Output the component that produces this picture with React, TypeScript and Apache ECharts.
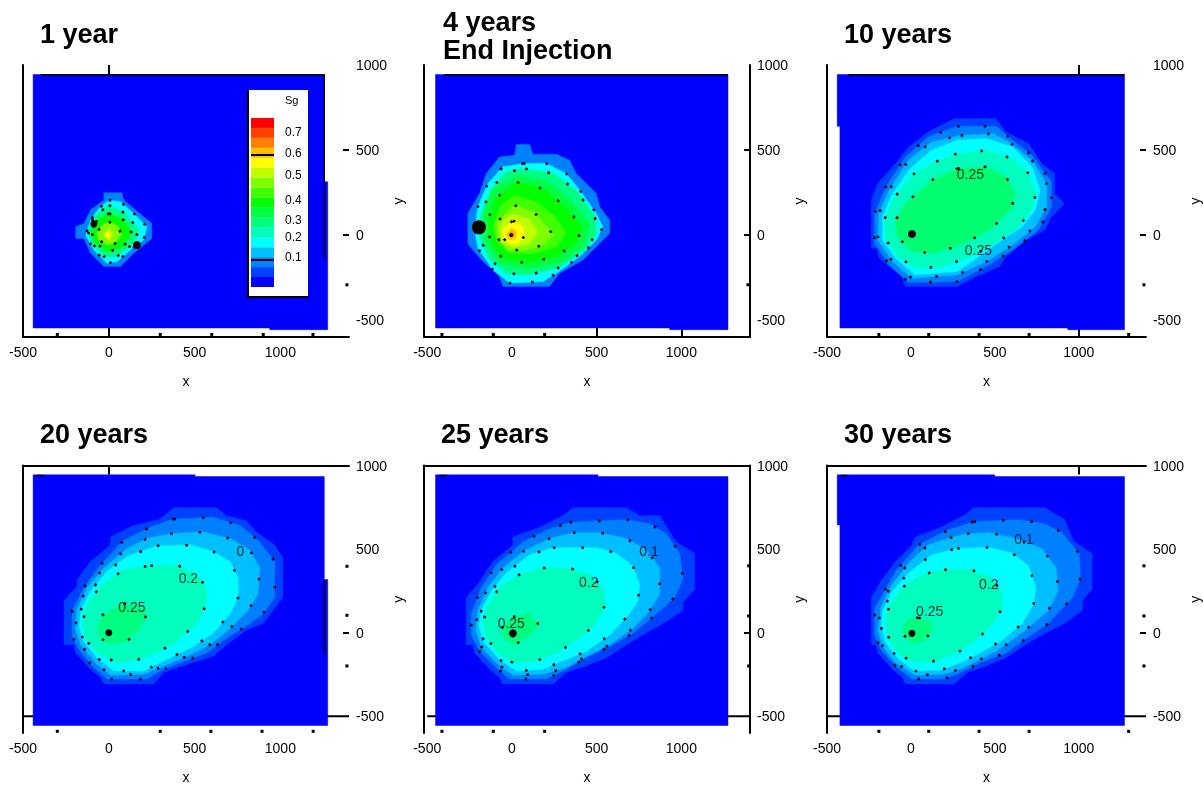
import React, { useEffect, useRef } from "react";
import * as echarts from "echarts";

type Pt = number[];

const legendColors = ["#0000ff","#0040ff","#0080ff","#00bfff","#00ffff","#00ffbf","#00ff80","#00ff40","#00ff00","#40ff00","#80ff00","#bfff00","#ffff00","#ffbf00","#ff8000","#ff4000","#ff0000"];
const legendLabels = ["0.7","0.6","0.5","0.4","0.3","0.2","0.1"];
const legendTitle = "Sg";
const titles = ["1 year","4 years\nEnd Injection","10 years","20 years","25 years","30 years"];
const xTickLabels = [-500,0,500,1000];
const yTickLabels = [-500,0,500,1000];

const bgSheet: Pt[][] = [
  [[-441,944],[1256,944],[1256,313],[1276,313],[1276,-557],[938,-557],[938,-547],[-441,-547]],
  [[-451,944],[1275,944],[1275,-557],[931,-557],[931,-547],[-451,-547]],
  [[-439,944],[1272,944],[1272,-557],[934,-557],[934,-547],[-423,-547],[-423,639],[-439,639]],
  [[-441,944],[503,944],[503,934],[1256,934],[1256,318],[1276,318],[1276,-555],[-441,-555]],
  [[-451,944],[508,944],[508,934],[1275,934],[1275,-555],[-451,-555]],
  [[-439,944],[499,944],[499,934],[1272,934],[1272,-555],[-423,-555],[-423,644],[-439,644]],
];

const colors1 = ["#0080ff","#00ffff","#00ff80","#00ff00","#80ff00","#bfff00","#ffff00"];
const bands1: Pt[][] = [
  [[-29,248],[77,248],[87,205],[145,156],[251,68],[251,-20],[145,-107],[68,-186],[-29,-186],[-106,-107],[-145,-20],[-193,-20],[-193,49],[-145,68],[-106,147],[-29,205]],
  [[0,205],[68,195],[145,127],[222,49],[203,-29],[126,-88],[48,-156],[-10,-166],[-87,-88],[-135,0],[-106,88],[-58,156]],
  [[0,176],[97,127],[174,29],[145,-49],[48,-127],[-29,-127],[-106,-39],[-122,29],[-87,107]],
  [[0,127],[87,88],[135,10],[87,-68],[0,-98],[-77,-49],[-102,20],[-68,88]],
  [[0,78],[58,49],[72,0],[39,-49],[-10,-59],[-58,-29],[-68,10],[-48,49]],
  [[0,39],[29,0],[0,-33],[-29,0]],
  [[-6,20],[14,0],[-6,-20],[-25,0]],
];

const colors2 = ["#0080ff","#00ffff","#00ff80","#00ff40","#00ff00","#40ff00","#80ff00","#bfff00","#ffff00","#ffbf00","#ff8000"];
const bands2: Pt[][] = [
  [[26,533],[104,533],[124,475],[262,475],[340,440],[380,361],[498,244],[518,166],[577,88],[577,10],[518,-49],[419,-147],[281,-225],[222,-303],[-53,-303],[-73,-244],[-171,-156],[-240,-78],[-260,-49],[-260,127],[-191,244],[-152,361],[-73,459],[16,469]],
  [[65,420],[203,420],[321,361],[400,264],[498,127],[537,49],[498,-29],[400,-127],[262,-225],[183,-274],[-14,-283],[-112,-205],[-201,-78],[-220,29],[-201,166],[-142,303],[-53,401]],
  [[79,390],[250,360],[385,256],[490,110],[500,10],[430,-92],[270,-195],[90,-235],[-35,-225],[-140,-133],[-190,-10],[-180,133],[-118,277],[-35,370]],
  [[35,345],[215,310],[345,205],[460,60],[425,-60],[285,-165],[90,-200],[-70,-170],[-155,-40],[-170,115],[-120,265]],
  [[30,310],[190,270],[310,170],[415,50],[380,-50],[250,-130],[75,-165],[-60,-135],[-130,-30],[-140,90],[-98,215]],
  [[16,235],[140,195],[255,110],[320,10],[260,-70],[120,-110],[-14,-105],[-90,-40],[-110,50],[-66,175]],
  [[16,175],[130,135],[215,40],[242,0],[180,-60],[70,-90],[-24,-88],[-80,-24],[-90,75]],
  [[6,125],[100,95],[154,15],[100,-55],[6,-75],[-60,-42],[-75,32],[-48,90]],
  [[6,85],[60,55],[80,0],[40,-45],[-4,-55],[-48,-24],[-55,32]],
  [[-4,39],[26,20],[22,-20],[-14,-29],[-33,0]],
  [[-4,20],[12,0],[-4,-14],[-18,0]],
];

const colors3 = ["#0040ff","#0080ff","#00bfff","#00ffff","#00ffbf","#00ff70"];
const bands3: Pt[][] = [
  [[257,684],[508,684],[566,606],[702,537],[779,420],[856,361],[856,244],[914,186],[837,107],[798,29],[702,-20],[566,-127],[528,-186],[392,-244],[276,-303],[-33,-303],[-52,-244],[-130,-186],[-197,-127],[-197,-78],[-236,-78],[-236,205],[-197,303],[-91,420],[-14,518],[102,606]],
  [[276,639],[508,639],[605,557],[721,469],[837,313],[837,166],[760,29],[605,-88],[450,-186],[276,-274],[-14,-279],[-130,-176],[-216,-49],[-216,127],[-149,283],[-33,459],[102,576]],
  [[296,586],[489,596],[586,547],[721,440],[808,303],[808,166],[740,49],[605,-59],[450,-156],[276,-234],[6,-254],[-110,-156],[-197,-29],[-191,127],[-130,264],[-14,440],[122,547]],
  [[276,557],[450,567],[605,518],[721,401],[769,264],[740,147],[663,49],[528,-39],[392,-137],[276,-215],[25,-234],[-91,-137],[-168,-29],[-168,107],[-120,225],[-14,381],[122,498]],
  [[257,475],[450,498],[605,449],[702,361],[744,244],[721,147],[624,29],[489,-59],[334,-137],[180,-186],[44,-195],[-72,-137],[-149,-29],[-159,88],[-110,205],[6,352],[122,420]],
  [[276,391],[450,401],[566,342],[624,244],[595,147],[470,29],[296,-59],[141,-107],[6,-98],[-81,-10],[-91,88],[-33,186],[122,322]],
];

const colors456 = ["#0040ff","#0080ff","#00bfff","#00ffff","#00ffbf","#00ff80"];
const bands4: Pt[][] = [
  [[377,748],[628,748],[686,700],[802,670],[860,602],[967,524],[1015,446],[1015,211],[957,133],[899,55],[802,16],[686,-72],[609,-141],[454,-190],[319,-238],[261,-307],[-29,-307],[-48,-268],[-106,-219],[-193,-121],[-203,-72],[-261,-72],[-261,191],[-184,279],[-184,319],[-106,426],[10,524],[10,573],[145,641],[300,680]],
  [[377,680],[609,690],[764,641],[870,553],[967,426],[967,211],[899,113],[793,35],[686,-33],[570,-121],[416,-180],[300,-229],[222,-277],[-10,-277],[-97,-199],[-174,-102],[-213,-23],[-213,133],[-145,270],[-48,406],[87,553],[242,631]],
  [[358,592],[551,602],[706,563],[822,494],[880,387],[870,231],[812,133],[706,25],[590,-72],[454,-141],[319,-199],[203,-248],[10,-254],[-77,-180],[-164,-72],[-193,16],[-188,133],[-126,270],[-29,387],[106,504],[222,563]],
  [[280,520],[474,524],[609,485],[706,426],[754,328],[754,211],[706,113],[609,-4],[493,-82],[338,-160],[203,-229],[29,-229],[-68,-150],[-145,-53],[-174,35],[-164,133],[-106,250],[-10,367],[106,455]],
  [[242,401],[396,406],[512,348],[570,270],[570,172],[512,55],[396,-53],[280,-121],[145,-170],[48,-180],[-68,-121],[-135,-43],[-155,55],[-126,172],[-48,279],[87,377]],
  [[87,176],[184,152],[222,113],[184,25],[106,-53],[10,-72],[-48,-33],[-68,25],[-39,104]],
];

const bands5: Pt[][] = [
  [[360,748],[675,748],[754,700],[872,700],[970,543],[1078,475],[1078,260],[1010,182],[1010,133],[892,55],[773,-14],[675,-72],[557,-150],[439,-199],[321,-238],[242,-307],[-53,-307],[-73,-268],[-132,-219],[-220,-121],[-230,-72],[-270,-72],[-270,211],[-201,289],[-112,426],[6,524],[6,573],[163,631],[301,700]],
  [[340,660],[675,676],[813,651],[911,592],[990,475],[1010,319],[960,211],[832,94],[714,-4],[577,-82],[439,-150],[301,-229],[203,-277],[-14,-277],[-92,-209],[-191,-111],[-240,-14],[-240,113],[-181,270],[-92,406],[65,543],[203,612]],
  [[360,598],[518,598],[675,563],[793,494],[872,387],[872,231],[813,133],[714,25],[577,-72],[439,-141],[321,-209],[183,-248],[6,-254],[-92,-180],[-181,-82],[-215,16],[-201,133],[-142,270],[-53,387],[65,485],[222,563]],
  [[242,508],[498,508],[616,475],[714,397],[754,289],[744,191],[695,113],[577,-14],[439,-111],[321,-160],[183,-219],[26,-229],[-73,-160],[-161,-63],[-195,35],[-181,133],[-122,250],[-33,358],[104,465]],
  [[183,387],[340,387],[459,348],[537,270],[553,172],[498,55],[400,-33],[281,-111],[144,-170],[6,-180],[-73,-131],[-142,-43],[-171,55],[-142,172],[-73,270],[45,348]],
  [[6,94],[104,113],[154,55],[114,-14],[16,-72],[-43,-43],[-63,25]],
];

const bands6: Pt[][] = [
  [[373,748],[798,748],[876,700],[914,680],[972,543],[1079,475],[1079,260],[1021,191],[1021,133],[914,55],[779,-14],[682,-72],[566,-150],[450,-199],[334,-238],[257,-307],[-33,-307],[-52,-268],[-110,-219],[-197,-121],[-207,-72],[-236,-72],[-236,211],[-178,309],[-91,426],[6,524],[25,573],[180,631],[315,700]],
  [[373,664],[644,676],[798,651],[895,602],[1001,475],[1011,328],[963,211],[818,55],[702,-23],[566,-121],[412,-180],[276,-248],[199,-277],[6,-277],[-91,-199],[-178,-102],[-216,-14],[-216,143],[-168,231],[-91,367],[44,524],[218,612]],
  [[334,592],[470,598],[624,563],[779,504],[866,387],[876,250],[818,133],[682,16],[566,-72],[450,-141],[315,-209],[199,-248],[25,-254],[-91,-180],[-168,-82],[-197,16],[-178,152],[-120,279],[-14,416],[102,524],[218,563]],
  [[276,504],[470,510],[605,475],[702,397],[744,270],[731,172],[663,55],[547,-43],[412,-121],[296,-180],[180,-223],[25,-229],[-72,-160],[-149,-63],[-178,35],[-168,133],[-110,250],[-14,358],[122,465]],
  [[199,377],[354,377],[470,338],[537,250],[547,152],[489,55],[392,-43],[276,-121],[141,-170],[25,-180],[-72,-131],[-130,-43],[-149,55],[-130,162],[-52,270],[64,348]],
  [[44,90],[122,64],[131,16],[73,-53],[6,-63],[-43,-14],[-43,45],[-14,84]],
];

const wells: Pt[][] = [
  [[-87,64,7],[164,-59,8]],
  [[-195,45,14],[-4,0,4]],
  [[6,6,8]],
  [[0,0,7]],
  [[6,-4,8]],
  [[6,-4,7]],
];

const contourLabels: (string|number)[][][] = [
  [],
  [],
  [["0.25",354,361],["0.25",402,-88]],
  [["0.2",464,328],["0.25",135,152],["0",767,488]],
  [["0.1",809,486],["0.2",453,303],["0.25",-4,59]],
  [["0.1",673,561],["0.2",464,293],["0.25",112,129]],
];

const dottedBands = [[1,2,3,4],[1,2,4,6,8],[1,2,4,5],[1,2,3,4,5],[1,2,3,4,5],[1,2,3,4,5]];
const dotGap = [12,20,24,26,26,26];

const frameSegments: Pt[][][] = [
  [[[-396,943],[1256,943],[1256,-137]]],
  [[[-398,943],[1275,943]]],
  [[[-371,943],[1272,943]]],
  [[[-420,940],[-380,940]],[[1256,318],[1256,-131]]],
  [[[-430,940],[-385,940]]],
  [[[-415,940],[-380,940]]],
];
const minusFiveHundredLine = [[[-500,-500],[1400,-500]]];

const xMinorTicks = [
  [-300,300,600,900,1190],
  [-413,-110,193],
  [-191,106,406,704,1297],
  [-300,300,595,893,1191],
  [-413,-110,193],
  [-191,106,406,704,1297],
];
const yMinorTicks = [[-293],[-293],[-293],[397,104,-199],[400,100,-199],[400,100,-199]];

const xBottomTicks = [[0],[500,1000],[1000],[],[],[]];
const xTopTicks = [[0],[],[1000],[0],[],[1000]];
const yRightTicks = [[500,0],[500,0],[500,0],[0],[0],[0]];
const showTopLine = [false,false,false,true,true,true];
const showBottomLine = [true,true,true,false,false,false];
const showRightLine = [false,true,false,false,true,false];

const gridLeft = [23,424,827,23,424,827];
const gridTop = [65,65,65,465.5,465.5,465.5];
const xMin = [-500,-519,-500,-500,-519,-500];
const xMax = [1400,1405,1400,1400,1405,1400];
const titleX = [40,443,844,40,441,844];
const titleY = [20,8,20,420,420,420];

const allBands = [bands1,bands2,bands3,bands4,bands5,bands6];
const allColors = [colors1,colors2,colors3,colors456,colors456,colors456];
const FONT = "Liberation Sans";
const tickFont = { color:"#000", fontSize:14, fontFamily:FONT };
const plainNumber = (v:number)=>String(v);

function polygons(bands: Pt[][], cols: string[], idx: number, z: number) {
  return {
    type:"custom", xAxisIndex:2*idx, yAxisIndex:2*idx+1, z, silent:true, clip:false,
    data: bands.map((_,i)=>[i]),
    encode:{x:0},
    renderItem:(p:any, api:any)=>({
      type:"polygon",
      shape:{ points: bands[p.dataIndex].map(q=>api.coord(q)) },
      style:{ fill: cols[p.dataIndex], stroke: cols[p.dataIndex], lineWidth:0.5 },
    }),
  };
}

function buildOption() {
  const grid:any[]=[], xAxis:any[]=[], yAxis:any[]=[], series:any[]=[];
  titles.forEach((_,i)=>{
    grid.push({ left:gridLeft[i], top:gridTop[i], width:326, height:272 });
    const tick=(vals:number[], len:number)=> vals.length
      ? { show:true, inside:true, length:len, customValues:vals, lineStyle:{color:"#000",width:2} }
      : { show:false };
    const line=(show:boolean)=>({ show, onZero:false, lineStyle:{color:"#000",width:2} });
    xAxis.push({ gridIndex:i, type:"value", position:"bottom", min:xMin[i], max:xMax[i],
      axisLine:line(showBottomLine[i]), axisTick:tick(xBottomTicks[i],9), splitLine:{show:false},
      axisLabel:{ ...tickFont, margin:8, customValues:xTickLabels, formatter:plainNumber },
      name:"x", nameLocation:"middle", nameGap:37, nameTextStyle:{...tickFont} });
    xAxis.push({ gridIndex:i, type:"value", position:"top", min:xMin[i], max:xMax[i],
      axisLine:line(showTopLine[i]), axisTick:tick(xTopTicks[i],9), axisLabel:{show:false}, splitLine:{show:false} });
    yAxis.push({ gridIndex:i, type:"value", position:"left", min:-600, max:1000,
      axisLine:line(true), axisTick:{show:false}, axisLabel:{show:false}, splitLine:{show:false} });
    yAxis.push({ gridIndex:i, type:"value", position:"right", min:-600, max:1000,
      axisLine:line(showRightLine[i]), axisTick:tick(yRightTicks[i],6), splitLine:{show:false},
      axisLabel:{ ...tickFont, margin:7, customValues:yTickLabels, formatter:plainNumber },
      name:"y", nameLocation:"middle", nameGap:42, nameRotate:90, nameTextStyle:{...tickFont} });

    if (i>=3) series.push({ type:"line", xAxisIndex:2*i, yAxisIndex:2*i+1, z:1, silent:true, showSymbol:false,
      data:minusFiveHundredLine[0], lineStyle:{color:"#000",width:2} });
    series.push(polygons([bgSheet[i]],["#0000ff"],i,2));
    series.push(polygons(allBands[i],allColors[i],i,3));
    dottedBands[i].forEach(k=>{
      const b = allBands[i][k];
      series.push({ type:"line", xAxisIndex:2*i, yAxisIndex:2*i+1, z:5, silent:true, showSymbol:false,
        data:[...b,b[0]], lineStyle:{color:"#000",width:2.5,type:[2.5,dotGap[i]]} });
    });
    frameSegments[i].forEach(seg=>{
      series.push({ type:"line", xAxisIndex:2*i, yAxisIndex:2*i+1, z:6, silent:true, showSymbol:false,
        data:seg, lineStyle:{color:"#000",width:1.5} });
    });
    series.push({ type:"scatter", xAxisIndex:2*i, yAxisIndex:2*i+1, z:7, silent:true, symbol:"circle",
      data:wells[i], symbolSize:(v:number[])=>v[2], itemStyle:{color:"#000",opacity:1} });
    series.push({ type:"scatter", xAxisIndex:2*i, yAxisIndex:2*i+1, z:7, silent:true, symbol:"rect", symbolSize:3,
      itemStyle:{color:"#000",opacity:1},
      data:[...xMinorTicks[i].map(v=>[v,i<3?-585:-590]),...yMinorTicks[i].map(v=>[i===1?1393:i===4?1397:1388,v])] });
    series.push({ type:"scatter", xAxisIndex:2*i, yAxisIndex:2*i+1, z:8, silent:true, symbolSize:0,
      data:contourLabels[i].map(l=>({ value:[l[1],l[2]], name:l[0] })),
      label:{ show:true, position:"inside", formatter:"{b}", ...tickFont } });
  });

  const lg:any[]=[];
  lg.push({ type:"rect", z:100, shape:{x:247,y:90,width:61,height:208}, style:{fill:"#000"} });
  lg.push({ type:"rect", z:101, shape:{x:249,y:90,width:59,height:206}, style:{fill:"#fff"} });
  legendColors.forEach((c,i)=>{
    lg.push({ type:"rect", z:102, shape:{x:251,y:277-i*9.94,width:23,height:10}, style:{fill:c} });
  });
  [155,260].forEach(y=>lg.push({ type:"rect", z:103, shape:{x:251,y:y-1,width:23,height:2}, style:{fill:"#000"} }));
  lg.push({ type:"text", z:104, x:285, y:100, style:{ text:legendTitle, fill:"#000", font:`11px "${FONT}"`, align:"left", verticalAlign:"middle" } });
  [132,153,175,200,220,237,257].forEach((y,i)=>{
    lg.push({ type:"text", z:104, x:285, y, style:{ text:legendLabels[i], fill:"#000", font:`12px "${FONT}"`, align:"left", verticalAlign:"middle" } });
  });

  return {
    animation:false,
    backgroundColor:"#fff",
    title: titles.map((t,i)=>({ text:t, left:titleX[i], top:titleY[i], padding:0,
      textStyle:{ fontFamily:FONT, fontWeight:"bold", fontSize:27, lineHeight:28, color:"#000" } })),
    grid, xAxis, yAxis, series,
    graphic:{ elements:lg },
  };
}

export default function App() {
  const ref = useRef<HTMLDivElement>(null);
  useEffect(()=>{
    const chart = echarts.init(ref.current!, null, { renderer:"svg" });
    chart.setOption(buildOption() as any);
    return ()=>chart.dispose();
  },[]);
  return <div ref={ref} style={{ position:"fixed", left:0, top:0, width:1203, height:785, background:"#fff", filter:"blur(0.4px)" }} />;
}
